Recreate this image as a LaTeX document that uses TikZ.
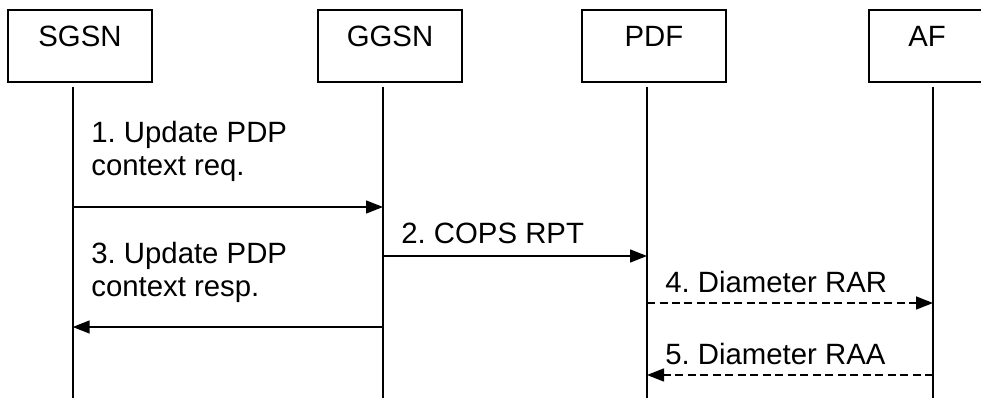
\documentclass[tikz,border=0pt]{standalone}
\usepackage{fontspec}
\setmainfont{Liberation Sans}
\usetikzlibrary{arrows.meta}
\frenchspacing

\begin{document}
\begin{tikzpicture}[x=0.02cm, y=-0.02cm,
  entity/.style={draw, line width=0.7pt, minimum width=2.88cm, minimum height=1.44cm,
    text height=0.4cm, text depth=0.36cm, inner sep=0pt, font=\fontsize{16.7}{18.8}\selectfont},
  lifeline/.style={line width=1pt},
  msg/.style={-{Triangle[length=0.34cm,width=0.26cm]}, line width=0.8pt},
  reply/.style={msg, dash pattern=on 0.16cm off 0.09cm},
  txt/.style={inner sep=0pt, align=left, font=\fontsize{16.7}{18.8}\selectfont}]

\useasboundingbox (0,0) rectangle (981,398);
\clip (0,0) rectangle (981,398);

%boxes
\node[entity] (sgsn) at (80,46) {SGSN};
\node[entity] (ggsn) at (390,46) {GGSN};
\node[entity] (pdf) at (654,46) {PDF};
\node[entity, minimum width=2.32cm] (af) at (927,46) {AF};

%lifelines
\coordinate (sgsnL) at (72.7,87);
\coordinate (ggsnL) at (383,87);
\coordinate (pdfL) at (647,87);
\coordinate (afL) at (933,87);
\draw[lifeline] (sgsnL) -- (sgsnL |- 0,398);
\draw[lifeline] (ggsnL) -- (ggsnL |- 0,398);
\draw[lifeline] (pdfL) -- (pdfL |- 0,398);
\draw[lifeline] (afL) -- (afL |- 0,398);

%arrows
\draw[msg] (sgsnL |- 0,207) -- (ggsnL |- 0,207);
\draw[msg] (ggsnL |- 0,256) -- (pdfL |- 0,256);
\draw[msg] (ggsnL |- 0,327) -- (sgsnL |- 0,327);
\draw[reply] (pdfL |- 0,303) -- (afL |- 0,303);
\draw[reply] (afL |- 0,375) -- (pdfL |- 0,375);

%labels
\node[txt, anchor=west] (l1) at (91,151.5) {1. Update PDP\\context req.};
\node[txt, anchor=base west] (l2) at (401,244) {2. COPS RPT};
\node[txt, anchor=west] (l3) at (91,272) {3. Update PDP\\context resp.};
\node[txt, anchor=base west] (l4) at (665,293) {4. Diameter RAR};
\node[txt, anchor=base west] (l5) at (665,365) {5. Diameter RAA};

\end{tikzpicture}
\end{document}
